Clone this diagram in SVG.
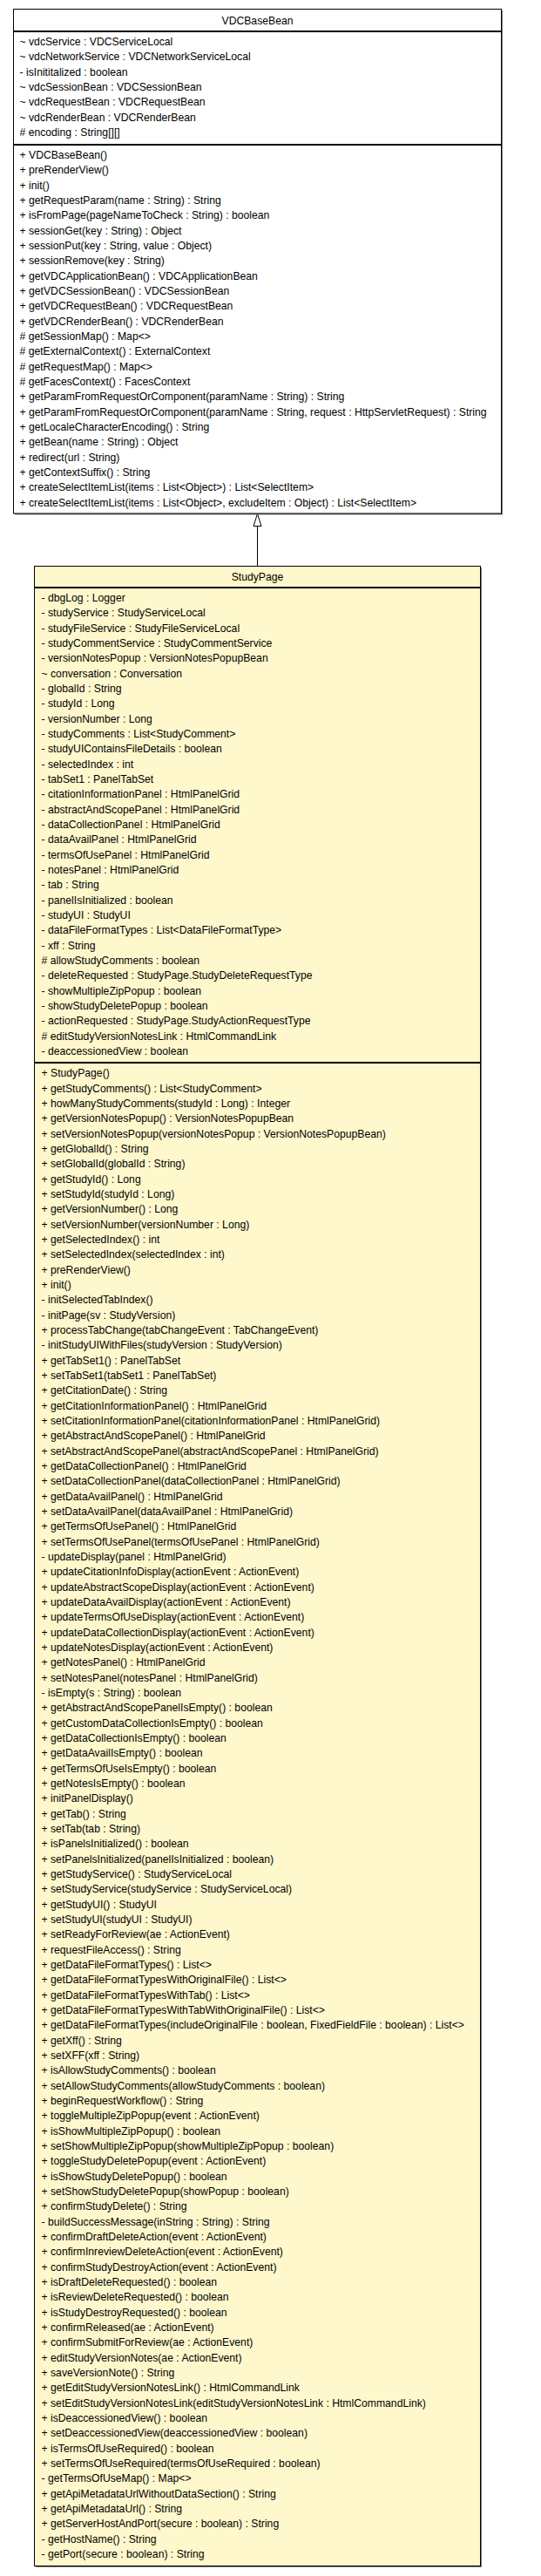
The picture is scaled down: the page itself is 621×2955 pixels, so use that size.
<svg xmlns="http://www.w3.org/2000/svg" width="621" height="2955" viewBox="0 0 621 2955">
<style>
.box{stroke:#000;stroke-width:1}
.white{fill:#fff}
.yellow{fill:#fff8cc}
.shadow{fill:#7a7a7a}
.sep{stroke:#000;stroke-width:2}
text{font-family:"Liberation Sans",Arial,sans-serif;font-size:12.2px;fill:#000}
.title{text-anchor:middle}
.edge{stroke:#000;stroke-width:1;fill:none}
.head{stroke:#000;stroke-width:1;fill:#fff}
</style>
<rect width="621" height="2955" fill="#fff"/>
<g id="connectors">
<line class="edge" x1="295.5" y1="603.5" x2="295.5" y2="649.5"/>
<polygon class="head" points="295.5,589.5 291,603.5 300,603.5"/>
</g>
<g id="node-VDCBaseBean">
<rect class="shadow" x="17" y="12" width="560" height="578.5"/>
<rect class="box white" x="15.5" y="10.5" width="560" height="578.5"/>
<line class="sep" x1="15.5" y1="36" x2="575.5" y2="36"/>
<line class="sep" x1="15.5" y1="166" x2="575.5" y2="166"/>
<text class="title" x="295.5" y="28">VDCBaseBean</text>
<text x="22.5">
<tspan x="22.5" y="52">~ vdcService : VDCServiceLocal</tspan>
<tspan x="22.5" y="69.33">~ vdcNetworkService : VDCNetworkServiceLocal</tspan>
<tspan x="22.5" y="86.67">- isInititalized : boolean</tspan>
<tspan x="22.5" y="104">~ vdcSessionBean : VDCSessionBean</tspan>
<tspan x="22.5" y="121.33">~ vdcRequestBean : VDCRequestBean</tspan>
<tspan x="22.5" y="138.67">~ vdcRenderBean : VDCRenderBean</tspan>
<tspan x="22.5" y="156"># encoding : String[][]</tspan>
</text>
<text x="22.5">
<tspan x="22.5" y="182">+ VDCBaseBean()</tspan>
<tspan x="22.5" y="199.33">+ preRenderView()</tspan>
<tspan x="22.5" y="216.67">+ init()</tspan>
<tspan x="22.5" y="234">+ getRequestParam(name : String) : String</tspan>
<tspan x="22.5" y="251.33">+ isFromPage(pageNameToCheck : String) : boolean</tspan>
<tspan x="22.5" y="268.67">+ sessionGet(key : String) : Object</tspan>
<tspan x="22.5" y="286">+ sessionPut(key : String, value : Object)</tspan>
<tspan x="22.5" y="303.33">+ sessionRemove(key : String)</tspan>
<tspan x="22.5" y="320.67">+ getVDCApplicationBean() : VDCApplicationBean</tspan>
<tspan x="22.5" y="338">+ getVDCSessionBean() : VDCSessionBean</tspan>
<tspan x="22.5" y="355.33">+ getVDCRequestBean() : VDCRequestBean</tspan>
<tspan x="22.5" y="372.67">+ getVDCRenderBean() : VDCRenderBean</tspan>
<tspan x="22.5" y="390"># getSessionMap() : Map&lt;&gt;</tspan>
<tspan x="22.5" y="407.33"># getExternalContext() : ExternalContext</tspan>
<tspan x="22.5" y="424.67"># getRequestMap() : Map&lt;&gt;</tspan>
<tspan x="22.5" y="442"># getFacesContext() : FacesContext</tspan>
<tspan x="22.5" y="459.33">+ getParamFromRequestOrComponent(paramName : String) : String</tspan>
<tspan x="22.5" y="476.67">+ getParamFromRequestOrComponent(paramName : String, request : HttpServletRequest) : String</tspan>
<tspan x="22.5" y="494">+ getLocaleCharacterEncoding() : String</tspan>
<tspan x="22.5" y="511.33">+ getBean(name : String) : Object</tspan>
<tspan x="22.5" y="528.67">+ redirect(url : String)</tspan>
<tspan x="22.5" y="546">+ getContextSuffix() : String</tspan>
<tspan x="22.5" y="563.33">+ createSelectItemList(items : List&lt;Object&gt;) : List&lt;SelectItem&gt;</tspan>
<tspan x="22.5" y="580.67">+ createSelectItemList(items : List&lt;Object&gt;, excludeItem : Object) : List&lt;SelectItem&gt;</tspan>
</text>
</g>
<g id="node-StudyPage">
<rect class="shadow" x="41" y="651" width="512" height="2294"/>
<rect class="box yellow" x="39.5" y="649.5" width="512" height="2294"/>
<line class="sep" x1="39.5" y1="674" x2="551.5" y2="674"/>
<line class="sep" x1="39.5" y1="1219" x2="551.5" y2="1219"/>
<text class="title" x="295.5" y="665.5">StudyPage</text>
<text x="47.5">
<tspan x="47.5" y="690">- dbgLog : Logger</tspan>
<tspan x="47.5" y="707.33">- studyService : StudyServiceLocal</tspan>
<tspan x="47.5" y="724.67">- studyFileService : StudyFileServiceLocal</tspan>
<tspan x="47.5" y="742">- studyCommentService : StudyCommentService</tspan>
<tspan x="47.5" y="759.33">- versionNotesPopup : VersionNotesPopupBean</tspan>
<tspan x="47.5" y="776.67">~ conversation : Conversation</tspan>
<tspan x="47.5" y="794">- globalId : String</tspan>
<tspan x="47.5" y="811.33">- studyId : Long</tspan>
<tspan x="47.5" y="828.67">- versionNumber : Long</tspan>
<tspan x="47.5" y="846">- studyComments : List&lt;StudyComment&gt;</tspan>
<tspan x="47.5" y="863.33">- studyUIContainsFileDetails : boolean</tspan>
<tspan x="47.5" y="880.67">- selectedIndex : int</tspan>
<tspan x="47.5" y="898">- tabSet1 : PanelTabSet</tspan>
<tspan x="47.5" y="915.33">- citationInformationPanel : HtmlPanelGrid</tspan>
<tspan x="47.5" y="932.67">- abstractAndScopePanel : HtmlPanelGrid</tspan>
<tspan x="47.5" y="950">- dataCollectionPanel : HtmlPanelGrid</tspan>
<tspan x="47.5" y="967.33">- dataAvailPanel : HtmlPanelGrid</tspan>
<tspan x="47.5" y="984.67">- termsOfUsePanel : HtmlPanelGrid</tspan>
<tspan x="47.5" y="1002">- notesPanel : HtmlPanelGrid</tspan>
<tspan x="47.5" y="1019.33">- tab : String</tspan>
<tspan x="47.5" y="1036.67">- panelIsInitialized : boolean</tspan>
<tspan x="47.5" y="1054">- studyUI : StudyUI</tspan>
<tspan x="47.5" y="1071.33">- dataFileFormatTypes : List&lt;DataFileFormatType&gt;</tspan>
<tspan x="47.5" y="1088.67">- xff : String</tspan>
<tspan x="47.5" y="1106"># allowStudyComments : boolean</tspan>
<tspan x="47.5" y="1123.33">- deleteRequested : StudyPage.StudyDeleteRequestType</tspan>
<tspan x="47.5" y="1140.67">- showMultipleZipPopup : boolean</tspan>
<tspan x="47.5" y="1158">- showStudyDeletePopup : boolean</tspan>
<tspan x="47.5" y="1175.33">- actionRequested : StudyPage.StudyActionRequestType</tspan>
<tspan x="47.5" y="1192.67"># editStudyVersionNotesLink : HtmlCommandLink</tspan>
<tspan x="47.5" y="1210">- deaccessionedView : boolean</tspan>
</text>
<text x="47.5">
<tspan x="47.5" y="1235.33">+ StudyPage()</tspan>
<tspan x="47.5" y="1252.67">+ getStudyComments() : List&lt;StudyComment&gt;</tspan>
<tspan x="47.5" y="1270">+ howManyStudyComments(studyId : Long) : Integer</tspan>
<tspan x="47.5" y="1287.33">+ getVersionNotesPopup() : VersionNotesPopupBean</tspan>
<tspan x="47.5" y="1304.67">+ setVersionNotesPopup(versionNotesPopup : VersionNotesPopupBean)</tspan>
<tspan x="47.5" y="1322">+ getGlobalId() : String</tspan>
<tspan x="47.5" y="1339.33">+ setGlobalId(globalId : String)</tspan>
<tspan x="47.5" y="1356.67">+ getStudyId() : Long</tspan>
<tspan x="47.5" y="1374">+ setStudyId(studyId : Long)</tspan>
<tspan x="47.5" y="1391.33">+ getVersionNumber() : Long</tspan>
<tspan x="47.5" y="1408.67">+ setVersionNumber(versionNumber : Long)</tspan>
<tspan x="47.5" y="1426">+ getSelectedIndex() : int</tspan>
<tspan x="47.5" y="1443.33">+ setSelectedIndex(selectedIndex : int)</tspan>
<tspan x="47.5" y="1460.67">+ preRenderView()</tspan>
<tspan x="47.5" y="1478">+ init()</tspan>
<tspan x="47.5" y="1495.33">- initSelectedTabIndex()</tspan>
<tspan x="47.5" y="1512.67">- initPage(sv : StudyVersion)</tspan>
<tspan x="47.5" y="1530">+ processTabChange(tabChangeEvent : TabChangeEvent)</tspan>
<tspan x="47.5" y="1547.33">- initStudyUIWithFiles(studyVersion : StudyVersion)</tspan>
<tspan x="47.5" y="1564.67">+ getTabSet1() : PanelTabSet</tspan>
<tspan x="47.5" y="1582">+ setTabSet1(tabSet1 : PanelTabSet)</tspan>
<tspan x="47.5" y="1599.33">+ getCitationDate() : String</tspan>
<tspan x="47.5" y="1616.67">+ getCitationInformationPanel() : HtmlPanelGrid</tspan>
<tspan x="47.5" y="1634">+ setCitationInformationPanel(citationInformationPanel : HtmlPanelGrid)</tspan>
<tspan x="47.5" y="1651.33">+ getAbstractAndScopePanel() : HtmlPanelGrid</tspan>
<tspan x="47.5" y="1668.67">+ setAbstractAndScopePanel(abstractAndScopePanel : HtmlPanelGrid)</tspan>
<tspan x="47.5" y="1686">+ getDataCollectionPanel() : HtmlPanelGrid</tspan>
<tspan x="47.5" y="1703.33">+ setDataCollectionPanel(dataCollectionPanel : HtmlPanelGrid)</tspan>
<tspan x="47.5" y="1720.67">+ getDataAvailPanel() : HtmlPanelGrid</tspan>
<tspan x="47.5" y="1738">+ setDataAvailPanel(dataAvailPanel : HtmlPanelGrid)</tspan>
<tspan x="47.5" y="1755.33">+ getTermsOfUsePanel() : HtmlPanelGrid</tspan>
<tspan x="47.5" y="1772.67">+ setTermsOfUsePanel(termsOfUsePanel : HtmlPanelGrid)</tspan>
<tspan x="47.5" y="1790">- updateDisplay(panel : HtmlPanelGrid)</tspan>
<tspan x="47.5" y="1807.33">+ updateCitationInfoDisplay(actionEvent : ActionEvent)</tspan>
<tspan x="47.5" y="1824.67">+ updateAbstractScopeDisplay(actionEvent : ActionEvent)</tspan>
<tspan x="47.5" y="1842">+ updateDataAvailDisplay(actionEvent : ActionEvent)</tspan>
<tspan x="47.5" y="1859.33">+ updateTermsOfUseDisplay(actionEvent : ActionEvent)</tspan>
<tspan x="47.5" y="1876.67">+ updateDataCollectionDisplay(actionEvent : ActionEvent)</tspan>
<tspan x="47.5" y="1894">+ updateNotesDisplay(actionEvent : ActionEvent)</tspan>
<tspan x="47.5" y="1911.33">+ getNotesPanel() : HtmlPanelGrid</tspan>
<tspan x="47.5" y="1928.67">+ setNotesPanel(notesPanel : HtmlPanelGrid)</tspan>
<tspan x="47.5" y="1946">- isEmpty(s : String) : boolean</tspan>
<tspan x="47.5" y="1963.33">+ getAbstractAndScopePanelIsEmpty() : boolean</tspan>
<tspan x="47.5" y="1980.67">+ getCustomDataCollectionIsEmpty() : boolean</tspan>
<tspan x="47.5" y="1998">+ getDataCollectionIsEmpty() : boolean</tspan>
<tspan x="47.5" y="2015.33">+ getDataAvailIsEmpty() : boolean</tspan>
<tspan x="47.5" y="2032.67">+ getTermsOfUseIsEmpty() : boolean</tspan>
<tspan x="47.5" y="2050">+ getNotesIsEmpty() : boolean</tspan>
<tspan x="47.5" y="2067.33">+ initPanelDisplay()</tspan>
<tspan x="47.5" y="2084.67">+ getTab() : String</tspan>
<tspan x="47.5" y="2102">+ setTab(tab : String)</tspan>
<tspan x="47.5" y="2119.33">+ isPanelsInitialized() : boolean</tspan>
<tspan x="47.5" y="2136.67">+ setPanelsInitialized(panelIsInitialized : boolean)</tspan>
<tspan x="47.5" y="2154">+ getStudyService() : StudyServiceLocal</tspan>
<tspan x="47.5" y="2171.33">+ setStudyService(studyService : StudyServiceLocal)</tspan>
<tspan x="47.5" y="2188.67">+ getStudyUI() : StudyUI</tspan>
<tspan x="47.5" y="2206">+ setStudyUI(studyUI : StudyUI)</tspan>
<tspan x="47.5" y="2223.33">+ setReadyForReview(ae : ActionEvent)</tspan>
<tspan x="47.5" y="2240.67">+ requestFileAccess() : String</tspan>
<tspan x="47.5" y="2258">+ getDataFileFormatTypes() : List&lt;&gt;</tspan>
<tspan x="47.5" y="2275.33">+ getDataFileFormatTypesWithOriginalFile() : List&lt;&gt;</tspan>
<tspan x="47.5" y="2292.67">+ getDataFileFormatTypesWithTab() : List&lt;&gt;</tspan>
<tspan x="47.5" y="2310">+ getDataFileFormatTypesWithTabWithOriginalFile() : List&lt;&gt;</tspan>
<tspan x="47.5" y="2327.33">+ getDataFileFormatTypes(includeOriginalFile : boolean, FixedFieldFile : boolean) : List&lt;&gt;</tspan>
<tspan x="47.5" y="2344.67">+ getXff() : String</tspan>
<tspan x="47.5" y="2362">+ setXFF(xff : String)</tspan>
<tspan x="47.5" y="2379.33">+ isAllowStudyComments() : boolean</tspan>
<tspan x="47.5" y="2396.67">+ setAllowStudyComments(allowStudyComments : boolean)</tspan>
<tspan x="47.5" y="2414">+ beginRequestWorkflow() : String</tspan>
<tspan x="47.5" y="2431.33">+ toggleMultipleZipPopup(event : ActionEvent)</tspan>
<tspan x="47.5" y="2448.67">+ isShowMultipleZipPopup() : boolean</tspan>
<tspan x="47.5" y="2466">+ setShowMultipleZipPopup(showMultipleZipPopup : boolean)</tspan>
<tspan x="47.5" y="2483.33">+ toggleStudyDeletePopup(event : ActionEvent)</tspan>
<tspan x="47.5" y="2500.67">+ isShowStudyDeletePopup() : boolean</tspan>
<tspan x="47.5" y="2518">+ setShowStudyDeletePopup(showPopup : boolean)</tspan>
<tspan x="47.5" y="2535.33">+ confirmStudyDelete() : String</tspan>
<tspan x="47.5" y="2552.67">- buildSuccessMessage(inString : String) : String</tspan>
<tspan x="47.5" y="2570">+ confirmDraftDeleteAction(event : ActionEvent)</tspan>
<tspan x="47.5" y="2587.33">+ confirmInreviewDeleteAction(event : ActionEvent)</tspan>
<tspan x="47.5" y="2604.67">+ confirmStudyDestroyAction(event : ActionEvent)</tspan>
<tspan x="47.5" y="2622">+ isDraftDeleteRequested() : boolean</tspan>
<tspan x="47.5" y="2639.33">+ isReviewDeleteRequested() : boolean</tspan>
<tspan x="47.5" y="2656.67">+ isStudyDestroyRequested() : boolean</tspan>
<tspan x="47.5" y="2674">+ confirmReleased(ae : ActionEvent)</tspan>
<tspan x="47.5" y="2691.33">+ confirmSubmitForReview(ae : ActionEvent)</tspan>
<tspan x="47.5" y="2708.67">+ editStudyVersionNotes(ae : ActionEvent)</tspan>
<tspan x="47.5" y="2726">+ saveVersionNote() : String</tspan>
<tspan x="47.5" y="2743.33">+ getEditStudyVersionNotesLink() : HtmlCommandLink</tspan>
<tspan x="47.5" y="2760.67">+ setEditStudyVersionNotesLink(editStudyVersionNotesLink : HtmlCommandLink)</tspan>
<tspan x="47.5" y="2778">+ isDeaccessionedView() : boolean</tspan>
<tspan x="47.5" y="2795.33">+ setDeaccessionedView(deaccessionedView : boolean)</tspan>
<tspan x="47.5" y="2812.67">+ isTermsOfUseRequired() : boolean</tspan>
<tspan x="47.5" y="2830">+ setTermsOfUseRequired(termsOfUseRequired : boolean)</tspan>
<tspan x="47.5" y="2847.33">- getTermsOfUseMap() : Map&lt;&gt;</tspan>
<tspan x="47.5" y="2864.67">+ getApiMetadataUrlWithoutDataSection() : String</tspan>
<tspan x="47.5" y="2882">+ getApiMetadataUrl() : String</tspan>
<tspan x="47.5" y="2899.33">+ getServerHostAndPort(secure : boolean) : String</tspan>
<tspan x="47.5" y="2916.67">- getHostName() : String</tspan>
<tspan x="47.5" y="2934">- getPort(secure : boolean) : String</tspan>
</text>
</g>
</svg>
